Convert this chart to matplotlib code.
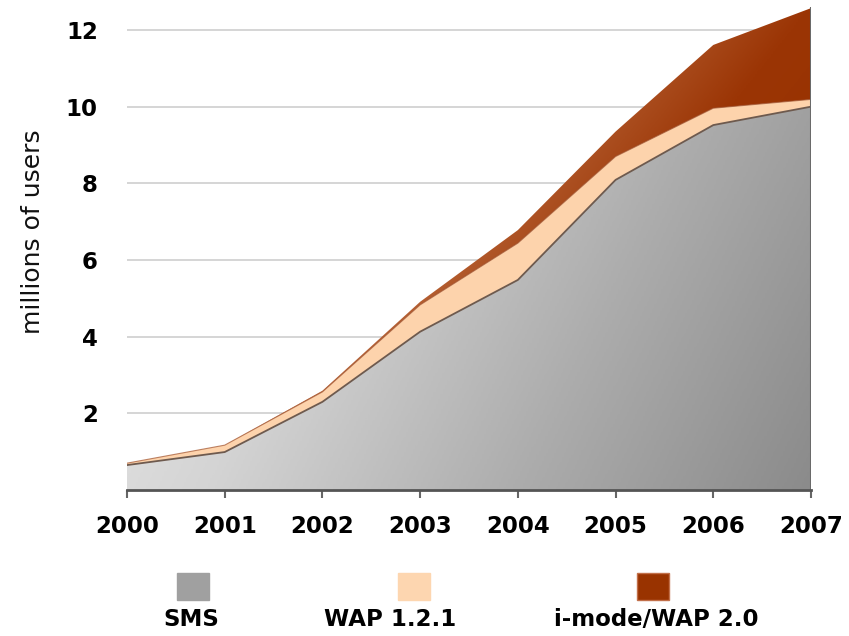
import numpy as np
import matplotlib
matplotlib.use("Agg")
import matplotlib.pyplot as plt
from matplotlib.colors import LinearSegmentedColormap
from matplotlib.patches import Rectangle

years = [2000, 2001, 2002, 2003, 2004, 2005, 2006, 2007]
sms = [0.65, 0.99, 2.30, 4.13, 5.48, 8.09, 9.52, 10.00]
wap121 = [0.05, 0.18, 0.26, 0.70, 0.96, 0.61, 0.44, 0.19]
imode = [0.00, 0.00, 0.03, 0.08, 0.34, 0.65, 1.65, 2.38]
series_names = ["SMS", "WAP 1.2.1", "i-mode/WAP 2.0"]
yticks = [2, 4, 6, 8, 10, 12]
ylabel = "millions of users"

x = np.array(years, dtype=float)
s1 = np.array(sms)
s2 = s1 + np.array(wap121)
s3 = s2 + np.array(imode)

W, H = 849, 636
fig = plt.figure(figsize=(W / 100, H / 100), dpi=100)
ymax = 12.6
ax = fig.add_axes([127 / W, (H - 490) / H, (811 - 127) / W, 483 / H])

bold = dict(fontfamily="DejaVu Sans", fontweight="bold")

# grid
for yt in yticks:
    ax.axhline(yt, color="#d2d2d2", lw=1.3, zorder=0)

gray_cmap = LinearSegmentedColormap.from_list("g", ["#eeeeee", "#d4d4d4", "#acacac", "#888888"])
brown_cmap = LinearSegmentedColormap.from_list("b", ["#c98a66", "#b25a2c", "#9b3505", "#983200"])

gx, gy = np.meshgrid(np.linspace(0, 1, 300), np.linspace(0, 1, 300))


def grad_fill(y_lo, y_hi, cmap, Z, z):
    poly = ax.fill_between(x, y_lo, y_hi, facecolor="none", edgecolor="none", zorder=z)
    im = ax.imshow(Z, extent=[x[0], x[-1], 0, ymax], origin="lower", cmap=cmap,
                   aspect="auto", zorder=z, interpolation="bilinear", vmin=0, vmax=1)
    im.set_clip_path(poly.get_paths()[0], transform=ax.transData)
    return poly

# SMS gray gradient: light top-left -> dark bottom-right
Zg = np.clip(0.72 * gx + 0.28 * (1 - gy) * 0.9, 0, 1)
grad_fill(np.zeros_like(s1), s1, gray_cmap, Zg, 2)

# WAP 1.2.1 orange
ax.fill_between(x, s1, s2, facecolor="#fdd3ac", edgecolor="none", zorder=2)

# i-mode brown gradient: lighter toward top-left
Zb = np.clip((gx - 0.55) * 1.6 + (1 - gy) * 0.9 - 0.05, 0, 1)
grad_fill(s2, s3, brown_cmap, Zb, 2)

# shadow edges
ax.plot(x, s1, color="#6e5a4e", lw=1.3, zorder=3)
ax.plot(x, s2, color="#a0522d", lw=0.8, alpha=0.7, zorder=3)
ax.plot([x[-1], x[-1]], [0, s3[-1]], color="#6a6a6a", lw=2.2, zorder=3)

ax.set_xlim(x[0], x[-1])
ax.set_ylim(0, ymax)
ax.set_xticks(years)
ax.set_xticklabels([str(y) for y in years], fontsize=16.5, **bold)
ax.set_yticks(yticks)
ax.set_yticklabels([str(t) for t in yticks], fontsize=16.5, **bold)

for side in ["top", "right", "left"]:
    ax.spines[side].set_visible(False)
ax.spines["bottom"].set_color("#555555")
ax.spines["bottom"].set_linewidth(2)
ax.spines["bottom"].set_zorder(4)
ax.tick_params(axis="x", direction="out", length=6, width=1.5, color="#666666", pad=12)
ax.tick_params(axis="y", length=0, pad=21)

fig.text(33 / W, 1 - 232 / H, ylabel, rotation=90, ha="center", va="center",
         fontsize=18, fontfamily="DejaVu Sans", color="#111111")

# legend (squares above labels)
leg_cols = ["#a0a0a0", "#fdd6b0", "#993300"]
leg_edges = ["#a0a0a0", "#fdd6b0", "#c2704a"]
sq_x = [177, 398, 637]
lab_x = [191, 390, 656]
for sx, lx, c, ec, name in zip(sq_x, lab_x, leg_cols, leg_edges, series_names):
    fig.add_artist(Rectangle((sx / W, 1 - 600 / H), 32 / W, 27 / H, transform=fig.transFigure,
                             facecolor=c, edgecolor=ec, lw=1))
    fig.text(lx / W, 1 - 619 / H, name, ha="center", va="center", fontsize=16.5, **bold)

fig.savefig("out.png", dpi=100)
